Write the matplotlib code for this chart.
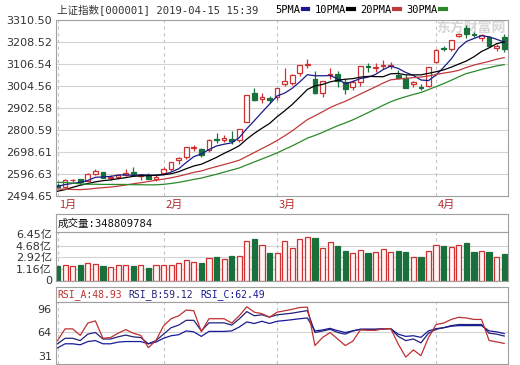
import numpy as np
import matplotlib
matplotlib.use("Agg")
import matplotlib.pyplot as plt
from matplotlib.lines import Line2D
from matplotlib.patches import Rectangle
from matplotlib.transforms import blended_transform_factory

plt.rcParams["font.family"] = ["DejaVu Sans", "Noto Sans CJK SC"]
plt.rcParams["font.size"] = 8

# ---- data (Shanghai Composite, 2019-01-14 .. 2019-04-15) ----
dates = [
    "2019-01-14", "2019-01-15", "2019-01-16", "2019-01-17", "2019-01-18",
    "2019-01-21", "2019-01-22", "2019-01-23", "2019-01-24", "2019-01-25",
    "2019-01-28", "2019-01-29", "2019-01-30", "2019-01-31", "2019-02-01",
    "2019-02-11", "2019-02-12", "2019-02-13", "2019-02-14", "2019-02-15",
    "2019-02-18", "2019-02-19", "2019-02-20", "2019-02-21", "2019-02-22",
    "2019-02-25", "2019-02-26", "2019-02-27", "2019-02-28", "2019-03-01",
    "2019-03-04", "2019-03-05", "2019-03-06", "2019-03-07", "2019-03-08",
    "2019-03-11", "2019-03-12", "2019-03-13", "2019-03-14", "2019-03-15",
    "2019-03-18", "2019-03-19", "2019-03-20", "2019-03-21", "2019-03-22",
    "2019-03-25", "2019-03-26", "2019-03-27", "2019-03-28", "2019-03-29",
    "2019-04-01", "2019-04-02", "2019-04-03", "2019-04-04", "2019-04-08",
    "2019-04-09", "2019-04-10", "2019-04-11", "2019-04-12", "2019-04-15",
]
opens = [
    2544, 2536, 2568, 2572, 2565, 2597, 2604, 2576, 2583, 2593,
    2608, 2588, 2594, 2575, 2599, 2618, 2660, 2676, 2716, 2711,
    2708, 2760, 2755, 2760, 2752, 2838, 2972, 2943, 2950, 2953,
    3015, 3019, 3063, 3103, 3038, 2970, 3055, 3059, 3022, 2999,
    3024, 3095, 3089, 3096, 3098, 3055, 3040, 3012, 3002, 3004,
    3116, 3183, 3176, 3236, 3272, 3244, 3226, 3232, 3183, 3232,
]
highs = [
    2555, 2573, 2575, 2575, 2599, 2619, 2608, 2590, 2596, 2618,
    2630, 2597, 2601, 2592, 2628, 2654, 2675, 2723, 2731, 2715,
    2757, 2788, 2779, 2796, 2806, 2962, 2996, 2974, 2956, 2997,
    3090, 3058, 3104, 3129, 3075, 3027, 3090, 3075, 3039, 3032,
    3097, 3110, 3112, 3125, 3115, 3077, 3055, 3029, 3014, 3094,
    3176, 3191, 3217, 3252, 3288, 3253, 3246, 3236, 3197, 3244,
]
lows = [
    2533, 2534, 2558, 2551, 2563, 2592, 2577, 2570, 2575, 2588,
    2592, 2570, 2573, 2565, 2597, 2610, 2645, 2668, 2703, 2677,
    2698, 2741, 2746, 2735, 2747, 2836, 2935, 2927, 2924, 2940,
    3006, 3010, 3050, 3088, 2969, 2953, 3035, 3001, 2969, 2985,
    3005, 3070, 3070, 3085, 3085, 3036, 2996, 2999, 2986, 2999,
    3112, 3165, 3167, 3230, 3229, 3230, 3214, 3186, 3167, 3163,
]
closes = [
    2535.77, 2570.34, 2570.42, 2559.64, 2596.01, 2610.51, 2579.70, 2581.00, 2591.69, 2601.72,
    2596.98, 2594.25, 2575.58, 2584.57, 2618.23, 2653.90, 2671.89, 2721.07, 2719.70, 2682.39,
    2754.36, 2755.65, 2761.22, 2751.80, 2804.23, 2961.28, 2941.52, 2953.82, 2940.95, 2994.01,
    3027.58, 3054.25, 3102.10, 3106.42, 2969.86, 3026.99, 3060.31, 3026.95, 2990.69, 3021.75,
    3096.42, 3090.98, 3090.64, 3101.46, 3104.15, 3043.03, 2997.10, 3022.72, 2994.94, 3090.76,
    3170.36, 3176.82, 3216.30, 3246.57, 3244.81, 3239.66, 3241.93, 3189.96, 3188.63, 3177.79,
]
# closes before the window (2018-11-30 .. 2019-01-11), needed for the moving averages
prev_closes = [
    2588.19, 2654.80, 2665.96, 2649.81, 2605.18, 2605.89, 2584.58, 2594.09, 2602.15, 2634.05,
    2593.74, 2597.97, 2576.65, 2549.56, 2536.27, 2516.25, 2527.01, 2504.82, 2498.29, 2483.09,
    2493.90, 2465.29, 2464.36, 2514.87, 2533.09, 2526.46, 2544.34, 2535.10, 2553.83,
]
last_volume = 348809784
# volume, in 亿 (1e8)
volume = [
    1.60, 1.70, 1.55, 1.75, 2.05, 1.95, 1.60, 1.49, 1.70, 1.70,
    1.60, 1.70, 1.30, 1.70, 1.70, 1.75, 2.10, 2.51, 2.25, 2.05,
    2.77, 2.96, 2.66, 3.16, 3.11, 5.39, 5.74, 4.78, 3.52, 3.52,
    5.39, 4.33, 5.69, 5.95, 5.84, 4.33, 5.19, 4.68, 3.87, 3.52,
    3.98, 3.52, 3.68, 4.13, 3.68, 3.87, 3.68, 2.92, 2.92, 3.87,
    4.78, 4.63, 4.48, 4.74, 5.09, 3.72, 3.87, 3.72, 2.92, last_volume / 1e8,
]
vol_ticks = [6.45, 4.68, 2.92, 1.16]
rsi_a = [
    52.8, 69.0, 69.0, 60.0, 77.0, 80.0, 56.0, 57.0, 63.0, 68.0,
    63.0, 60.0, 43.0, 53.0, 73.0, 83.0, 87.0, 95.0, 94.0, 65.0,
    83.0, 83.0, 83.0, 77.0, 87.0, 99.5, 92.0, 90.0, 85.0, 92.0,
    94.0, 96.0, 98.5, 99.0, 46.0, 57.0, 64.0, 55.0, 46.0, 52.0,
    67.5, 67.0, 67.0, 69.0, 69.5, 48.0, 30.0, 40.0, 32.0, 57.0,
    75.0, 77.0, 82.0, 85.0, 84.0, 82.0, 82.0, 53.0, 51.0, 48.93,
]
rsi_b = [
    48.4, 56.0, 56.0, 52.8, 61.7, 64.0, 55.0, 55.0, 58.0, 60.4,
    58.0, 57.0, 48.4, 52.8, 61.7, 70.6, 74.2, 80.8, 80.8, 66.2,
    77.3, 77.3, 77.3, 74.2, 82.7, 92.8, 87.1, 88.4, 85.3, 88.4,
    89.5, 90.7, 92.5, 94.2, 64.0, 66.0, 68.4, 64.0, 61.7, 66.2,
    68.4, 68.4, 68.4, 69.0, 69.3, 58.6, 52.8, 55.0, 49.7, 63.0,
    68.4, 70.6, 73.5, 75.0, 75.0, 75.0, 75.0, 63.0, 61.7, 59.12,
]
rsi_c = [
    42.7, 48.4, 48.4, 47.0, 51.5, 52.8, 48.4, 48.4, 50.7, 51.5,
    51.5, 51.5, 48.4, 50.7, 56.0, 59.5, 60.9, 66.2, 64.9, 58.6,
    65.5, 65.5, 65.5, 66.2, 71.5, 78.6, 76.4, 79.5, 76.4, 79.5,
    80.5, 81.7, 83.0, 84.0, 66.2, 67.5, 69.7, 66.5, 64.0, 66.2,
    68.4, 68.4, 68.4, 69.0, 69.3, 61.7, 58.6, 59.5, 57.3, 66.2,
    69.3, 70.6, 72.6, 73.5, 73.5, 73.5, 73.5, 66.2, 64.9, 62.49,
]
ma_periods = [5, 10, 20, 30]
ma_colors = ["#1a1a8c", "#000000", "#c03a3a", "#2a8a2a"]

RED = "#d03030"
GREEN = "#1a703c"
GRID = "#d4d4d4"
FRAME = "#a0a0a0"
TXT = "#333333"
MONO_CJK = ["DejaVu Sans Mono", "Noto Sans CJK SC"]

W, H = 520, 365
n = len(closes)
x = np.arange(n)
all_close = np.array(prev_closes + closes)


def ma(period):
    vals = np.convolve(all_close, np.ones(period) / period, mode="valid")
    return vals[-n:]


def box(x0, y0, x1, y1):
    return [x0 / W, 1 - y1 / H, (x1 - x0) / W, (y1 - y0) / H]


def style(ax):
    for s in ax.spines.values():
        s.set_color(FRAME)
        s.set_linewidth(0.8)
    ax.tick_params(length=0, colors=TXT, labelsize=8, pad=3)
    ax.set_xticks([])
    ax.set_xlim(-0.2, n - 0.5)


month_starts = [i for i in range(n) if i == 0 or dates[i][5:7] != dates[i - 1][5:7]]

fig = plt.figure(figsize=(W / 100, H / 100), dpi=100)
fig.patch.set_facecolor("white")

# ---- main candlestick panel ----
ax = fig.add_axes(box(56, 20, 508, 196))
style(ax)
ylo, yhi = 2494.65, 3310.50
ax.set_ylim(ylo, yhi)
yt = np.linspace(ylo, yhi, 9)
ax.set_yticks(yt)
ax.set_yticklabels([f"{v + 1e-6:.2f}" for v in yt])
for v in yt[1:-1]:
    ax.axhline(v, color=GRID, lw=0.8, zorder=0)
for m in month_starts:
    ax.axvline(m, color="#c4c4c4", lw=0.8, ls=(0, (3, 3)), zorder=0)

bw = 0.62
for i in range(n):
    o, h, l, c = opens[i], highs[i], lows[i], closes[i]
    up = c >= o
    col = RED if up else GREEN
    ax.vlines(i, l, h, color=col, lw=0.9, zorder=2)
    ax.add_patch(Rectangle((i - bw / 2, min(o, c)), bw, max(abs(c - o), 0.8),
                           facecolor="white" if up else GREEN, edgecolor=col,
                           lw=0.9, zorder=2.5))

for p, col in zip(ma_periods, ma_colors):
    ax.plot(x, ma(p), color=col, lw=0.9, zorder=3)

tr = blended_transform_factory(ax.transData, ax.transAxes)
for m in month_starts:
    ax.text(m + 0.25, -0.02, f"{int(dates[m][5:7])}月", transform=tr, ha="left", va="top",
            color="#b03030", fontsize=8, family=["Noto Sans CJK SC"])

fig.text(57 / W, 1 - 10 / H, "上证指数[000001] 2019-04-15 15:39", family=MONO_CJK,
         fontsize=7.6, color=TXT, va="center", ha="left")

handles = [Line2D([], [], color=c, lw=3) for c in ma_colors]
ax.legend(handles, [f"{p}PMA" for p in ma_periods], loc="center left",
          bbox_to_anchor=((275 - 56) / 452, 1 + 10 / 176), ncol=4, frameon=False,
          markerfirst=False, handlelength=0.55, handletextpad=0.25, columnspacing=0.6,
          borderpad=0, borderaxespad=0, prop={"family": "DejaVu Sans Mono", "size": 7.5})

ax.text(0.995, 0.955, "东方财富网", transform=ax.transAxes, ha="right", va="center",
        fontsize=10, color="#d6d6d6", weight="bold", family=["Noto Sans CJK SC"], zorder=1)

# ---- volume panel ----
axh = fig.add_axes(box(56, 214, 508, 232.3))
style(axh)
axh.set_yticks([])
axh.text(0.003, 0.5, f"成交量:{last_volume}", transform=axh.transAxes, va="center",
         ha="left", family=MONO_CJK, fontsize=7.6, color="#111111")

axv = fig.add_axes(box(56, 232.3, 508, 280.5))
style(axv)
vol_floor = vol_ticks[-1] - (vol_ticks[0] - vol_ticks[-1]) / 3
axv.set_ylim(vol_floor, vol_ticks[0] + 0.26)
axv.set_yticks(vol_ticks + [vol_floor])
axv.set_yticklabels([f"{v:.2f}亿" for v in vol_ticks] + ["0"])
for v in vol_ticks[1:]:
    axv.axhline(v, color=GRID, lw=0.8, zorder=0)
for m in month_starts:
    axv.axvline(m, color="#c4c4c4", lw=0.8, ls=(0, (3, 3)), zorder=0)
vcols = [RED if closes[i] >= opens[i] else GREEN for i in range(n)]
vfill = ["#fff4f4" if c == RED else GREEN for c in vcols]
axv.bar(x, np.array(volume) - vol_floor, bottom=vol_floor, width=0.68,
        color=vfill, edgecolor=vcols, lw=0.9, zorder=2)

# ---- RSI panel ----
axrh = fig.add_axes(box(56, 287.3, 508, 301.7))
style(axrh)
axrh.set_yticks([])
rsi_hdr = [(f"RSI_A:{rsi_a[-1]:.2f}", "#c03030"), (f"RSI_B:{rsi_b[-1]:.2f}", "#22227a"),
           (f"RSI_C:{rsi_c[-1]:.2f}", "#1a1a9a")]
for k, (t, c) in enumerate(rsi_hdr):
    fig.text((57 + 71.5 * k) / W, 1 - 294.5 / H, t, family="DejaVu Sans Mono",
             fontsize=7, color=c, va="center", ha="left")

axr = fig.add_axes(box(56, 301.7, 508, 364))
style(axr)
axr.set_ylim(20.5, 106.5)
axr.set_yticks([31, 64, 96])
axr.axhline(64, color=GRID, lw=0.8, zorder=0)
for m in month_starts:
    axr.axvline(m, color="#c4c4c4", lw=0.8, ls=(0, (3, 3)), zorder=0)
axr.plot(x, rsi_c, color="#1a1a9a", lw=0.9, zorder=2)
axr.plot(x, rsi_b, color="#22227a", lw=0.9, zorder=2)
axr.plot(x, rsi_a, color="#c03030", lw=0.9, zorder=3)

fig.savefig("out.png", dpi=100)
